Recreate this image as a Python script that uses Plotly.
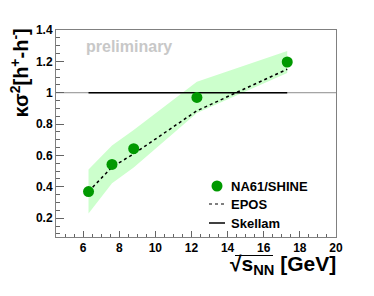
import plotly.graph_objects as go

# data
energies = [6.3, 7.6, 8.8, 12.3, 17.3]
na61_vals = [0.37, 0.543, 0.643, 0.97, 1.196]
na61_syst = [0.14, 0.12, 0.12, 0.10, 0.07]
epos_vals = [0.37, 0.526, 0.61, 0.885, 1.15]
skellam_x = [6.3, 17.3]
skellam_y = [1.0, 1.0]
x_ticks = [6, 8, 10, 12, 14, 16, 18, 20]
y_ticks = [0.2, 0.4, 0.6, 0.8, 1.0, 1.2, 1.4]
y_tick_labels = ["0.2", "0.4", "0.6", "0.8", "1", "1.2", "1.4"]

FONT = "Liberation Sans, Arial, Helvetica, sans-serif"
GREEN = "rgb(0,153,0)"
BAND = "rgb(204,255,204)"

upper = [v + e for v, e in zip(na61_vals, na61_syst)]
lower = [v - e for v, e in zip(na61_vals, na61_syst)]

fig = go.Figure()
fig.add_trace(go.Scatter(
    x=energies + energies[::-1], y=upper + lower[::-1],
    fill="toself", fillcolor=BAND, line=dict(width=0), mode="lines",
    hoverinfo="skip", showlegend=False))
fig.add_trace(go.Scatter(
    x=skellam_x, y=skellam_y, mode="lines",
    line=dict(color="black", width=1.5), showlegend=False))
fig.add_trace(go.Scatter(
    x=energies, y=epos_vals, mode="lines",
    line=dict(color="black", width=1.5, dash="dot"), showlegend=False))
fig.add_trace(go.Scatter(
    x=energies, y=na61_vals, mode="markers",
    marker=dict(color=GREEN, size=11), showlegend=False))

# gray reference line at 1 across the frame
fig.add_shape(type="line", xref="paper", x0=0, x1=1, yref="y", y0=1, y1=1,
              line=dict(color="rgb(140,140,140)", width=1), layer="below")

# page body has an 8px offset; frame in page pixels: x 56..336, y 30..237
FL, FR, FT, FB = 56, 336, 30, 237
pw, ph = FR - FL, FB - FT
def px(xp):
    return (xp - FL) / pw
def py(yp):
    return 1 - (yp - FT) / ph

fig.add_shape(type="circle", xref="paper", yref="paper",
              x0=px(211.5), x1=px(222.5), y0=py(180.5), y1=py(191.5),
              fillcolor=GREEN, line=dict(width=0))
fig.add_shape(type="line", xref="paper", yref="paper",
              x0=px(209), x1=px(225), y0=py(204), y1=py(204),
              line=dict(color="black", width=1.2, dash="dot"))
fig.add_shape(type="line", xref="paper", yref="paper",
              x0=px(209), x1=px(225), y0=py(223), y1=py(223),
              line=dict(color="black", width=1.5))
for label, yp in [("NA61/SHINE", 186), ("EPOS", 204), ("Skellam", 223)]:
    fig.add_annotation(text=label, xref="paper", yref="paper",
                       x=px(229), y=py(yp), xanchor="left", yanchor="middle",
                       showarrow=False,
                       font=dict(family=FONT, size=13, color="black", weight="bold"))

fig.add_annotation(text="preliminary", xref="paper", yref="paper",
                   x=px(84), y=py(46.5), xanchor="left", yanchor="middle",
                   showarrow=False,
                   font=dict(family=FONT, size=16, color="rgb(200,200,200)", weight="bold"))

# axis titles
fig.add_annotation(text="κσ<sup>2</sup>[h<sup>+</sup>-h<sup>-</sup>]",
                   xref="paper", yref="paper", x=px(19), y=py(27),
                   xanchor="center", yanchor="top", textangle=-90, showarrow=False,
                   font=dict(family=FONT, size=20, color="black", weight="bold"))
fig.add_annotation(text="√s<sub>NN</sub> [GeV]",
                   xref="paper", yref="paper", x=px(338), y=py(265),
                   xanchor="right", yanchor="middle", showarrow=False,
                   font=dict(family=FONT, size=21, color="black", weight="bold"))
fig.add_shape(type="line", xref="paper", yref="paper",
              x0=px(235), x1=px(273), y0=py(255.5), y1=py(255.5),
              line=dict(color="black", width=1))

axis_common = dict(showgrid=False, zeroline=False, showline=True, mirror=True,
                   linecolor="rgb(128,128,128)", linewidth=1,
                   ticks="inside", tickcolor="rgb(100,100,100)",
                   tickfont=dict(family=FONT, size=12, color="black", weight="bold"))
fig.update_xaxes(range=[4.5, 20], tickvals=x_ticks, ticklen=6,
                 minor=dict(ticks="inside", ticklen=3, dtick=0.5,
                            tickcolor="rgb(100,100,100)", showgrid=False),
                 **axis_common)
fig.update_yaxes(range=[0.08, 1.4], tickvals=y_ticks, ticktext=y_tick_labels,
                 ticklen=8,
                 minor=dict(ticks="inside", ticklen=4, dtick=0.05,
                            tickcolor="rgb(100,100,100)", showgrid=False),
                 **axis_common)

# figure is 366x288 so that, with the page's 8px body margin, it fills 374x296
fig.update_layout(width=366, height=288,
                  margin=dict(l=FL - 8, r=374 - FR, t=FT - 8, b=296 - FB),
                  plot_bgcolor="white", paper_bgcolor="white", showlegend=False)
fig.write_html("out.html")
